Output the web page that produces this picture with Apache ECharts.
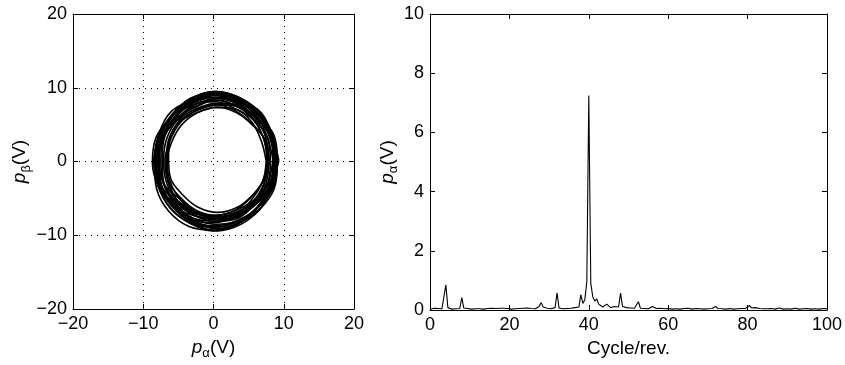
<!DOCTYPE html>
<html>
<head>
<meta charset="utf-8">
<script src="https://cdn.jsdelivr.net/npm/echarts@6/dist/echarts.min.js"></script>
<style>
html,body{margin:0;padding:0;background:#fff;}
#c{width:845px;height:365px;}
</style>
</head>
<body>
<div id="c"></div>
<script>
// ---- Left panel: trajectory p_alpha vs p_beta (V), 16 samples per revolution ----
const pointsPerLoop = 16;
const pAlpha = [
  8.5,7.7,6.2,3.4,0.3,-2.7,-5.4,-7.3,-7.7,-7.5,-5.2,-2.8,0.3,3.5,6.0,8.3,
  9.1,8.3,6.2,3.7,0.3,-3.0,-5.6,-7.3,-8.1,-7.7,-5.9,-3.2,0.3,3.6,6.5,8.6,
  7.7,7.3,5.4,3.1,0.3,-2.5,-4.8,-6.2,-6.9,-6.5,-5.1,-2.5,0.3,3.3,5.5,7.0,
  9.3,8.4,6.8,3.8,0.3,-3.1,-5.8,-7.8,-8.3,-7.5,-5.8,-3.1,0.3,3.8,6.5,8.2,
  8.1,7.7,5.8,3.2,0.3,-2.8,-5.2,-6.7,-7.1,-6.7,-5.2,-2.8,0.3,3.2,5.8,7.7,
  8.7,8.3,6.5,3.6,0.3,-2.8,-5.8,-7.5,-7.9,-7.1,-5.5,-2.9,0.3,3.7,6.4,8.1,
  7.5,6.8,5.5,3.2,0.3,-2.4,-4.9,-6.4,-6.7,-6.4,-4.7,-2.5,0.3,3.1,5.3,7.0,
  8.9,8.4,6.7,3.8,0.3,-3.2,-5.9,-7.7,-8.5,-7.7,-5.6,-3.0,0.3,3.7,6.4,8.4,
  7.9,7.5,6.0,3.4,0.3,-2.6,-5.2,-7.1,-7.5,-7.1,-5.5,-2.7,0.3,3.3,6.0,7.5,
  8.5,8.1,6.1,3.5,0.3,-2.9,-5.5,-7.1,-7.9,-7.5,-5.8,-2.9,0.3,3.4,6.1,8.1,
  9.1,8.6,6.4,3.7,0.3,-3.2,-5.9,-7.7,-8.1,-7.8,-6.1,-3.2,0.3,3.7,6.7,8.4,
  8.9,8.1,6.6,3.8,0.7,-2.3,-5.0,-6.9,-7.3,-7.1,-4.8,-2.4,0.7,3.9,6.4,8.7,
  8.8,8.0,5.9,3.4,0.0,-3.3,-5.9,-7.6,-8.4,-8.0,-6.2,-3.5,0.0,3.3,6.2,8.3,
  7.9,7.5,5.6,3.3,0.5,-2.3,-4.6,-6.0,-6.7,-6.3,-4.9,-2.3,0.5,3.5,5.7,7.2,
  8.9,8.0,6.4,3.4,-0.1,-3.5,-6.2,-8.2,-8.7,-7.9,-6.2,-3.5,-0.1,3.4,6.1,7.8,
  8.6,8.2,6.3,3.7,0.8,-2.3,-4.7,-6.2,-6.6,-6.2,-4.7,-2.3,0.8,3.7,6.3,8.2,
  8.5,8.1,6.3,3.4,0.1,-3.0,-6.0,-7.7,-8.1,-7.3,-5.7,-3.1,0.1,3.5,6.2,7.9,
  9.1,8.6,6.9,4.0,0.5,-3.0,-5.7,-7.5,-8.3,-7.5,-5.4,-2.8,0.5,3.9,6.6,8.6,
  7.8,7.1,5.8,3.5,0.6,-2.1,-4.6,-6.1,-6.4,-6.1,-4.4,-2.2,0.6,3.4,5.6,7.3,
  7.6,7.2,5.7,3.1,0.0,-2.9,-5.5,-7.4,-7.8,-7.4,-5.8,-3.0,0.0,3.0,5.7,7.2,
  8.6,8.2,6.2,3.6,0.4,-2.8,-5.4,-7.0,-7.8,-7.4,-5.7,-2.8,0.4,3.5,6.2,8.2,
  8.8,8.3,6.1,3.4,0.0,-3.5,-6.2,-8.0,-8.4,-8.1,-6.4,-3.5,0.0,3.4,6.4,8.1
];
const pBeta = [
  0.1,3.2,6.0,7.5,8.3,7.3,5.8,3.2,0.1,-3.1,-5.4,-7.3,-8.1,-7.7,-5.6,-3.2,
  0.1,3.4,6.0,8.2,9.1,8.1,6.0,3.2,0.1,-3.2,-6.1,-8.2,-8.7,-7.9,-6.1,-3.4,
  0.1,3.0,5.2,6.9,7.7,6.9,5.2,2.8,0.1,-2.7,-5.3,-6.7,-7.5,-7.1,-5.1,-2.7,
  0.1,3.5,6.6,8.4,9.3,8.2,6.2,3.5,0.1,-3.1,-6.0,-8.0,-9.1,-8.2,-6.1,-3.2,
  0.1,3.2,5.6,7.1,8.1,7.7,5.6,3.0,0.1,-2.8,-5.4,-7.3,-7.7,-6.9,-5.4,-3.0,
  0.1,3.4,6.3,8.1,8.5,7.7,6.2,3.3,0.1,-3.0,-5.7,-7.7,-8.5,-8.0,-6.0,-3.1,
  0.1,2.8,5.3,7.1,7.3,6.6,5.3,2.9,0.1,-2.7,-4.9,-6.6,-7.3,-6.6,-4.9,-2.7,
  0.1,3.5,6.5,8.6,9.5,8.4,6.3,3.4,0.1,-3.2,-5.8,-7.9,-8.9,-8.0,-6.0,-3.3,
  0.1,3.1,5.8,7.7,7.9,7.1,5.6,3.2,0.1,-3.0,-5.7,-7.1,-7.5,-7.1,-5.6,-2.9,
  0.1,3.3,5.9,7.9,8.7,7.9,5.9,3.2,0.1,-3.1,-6.0,-7.7,-8.1,-7.3,-5.7,-3.1,
  0.1,3.6,6.2,8.2,9.1,8.6,6.3,3.4,0.1,-3.3,-6.3,-8.4,-8.9,-8.0,-6.3,-3.3,
  0.4,3.5,6.3,7.8,8.6,7.6,6.1,3.5,0.4,-2.8,-5.1,-7.0,-7.8,-7.4,-5.3,-2.9,
  0.5,3.8,6.4,8.6,9.5,8.5,6.4,3.6,0.5,-2.8,-5.7,-7.8,-8.3,-7.5,-5.7,-3.0,
  -0.2,2.7,4.9,6.6,7.4,6.6,4.9,2.5,-0.2,-3.0,-5.6,-7.0,-7.8,-7.4,-5.4,-3.0,
  -0.2,3.2,6.3,8.1,9.0,7.9,5.9,3.2,-0.2,-3.4,-6.3,-8.3,-9.4,-8.5,-6.4,-3.5,
  0.3,3.4,5.8,7.3,8.3,7.9,5.8,3.2,0.3,-2.6,-5.2,-7.1,-7.5,-6.7,-5.2,-2.8,
  0.7,4.0,6.9,8.7,9.1,8.3,6.8,3.9,0.7,-2.4,-5.1,-7.1,-7.9,-7.4,-5.4,-2.5,
  -0.4,3.0,6.0,8.1,9.0,7.9,5.8,2.9,-0.4,-3.7,-6.3,-8.4,-9.4,-8.5,-6.5,-3.8,
  0.5,3.2,5.7,7.5,7.7,7.0,5.7,3.3,0.5,-2.3,-4.5,-6.2,-6.9,-6.2,-4.5,-2.3,
  -0.1,2.9,5.6,7.5,7.7,6.9,5.4,3.0,-0.1,-3.2,-5.9,-7.3,-7.7,-7.3,-5.8,-3.1,
  0.9,4.1,6.7,8.7,9.5,8.7,6.7,4.0,0.9,-2.3,-5.2,-6.9,-7.3,-6.5,-4.9,-2.3,
  -0.3,3.2,5.8,7.8,8.7,8.2,5.9,3.0,-0.3,-3.7,-6.7,-8.8,-9.3,-8.4,-6.7,-3.7
];
const leftTicks = [-20, -10, 0, 10, 20];

// ---- Right panel: spectrum of p_alpha vs Cycle/rev. (0..100, step 0.5) ----
const freqStep = 0.5;
const spectrum = [
  0.02,0.05,0.06,0.04,0.05,0.03,0.04,0.06,0.85,0.08,0.04,0.03,0.05,0.04,0.06,0.05,0.42,0.07,0.04,0.05,
  0.04,0.03,0.05,0.04,0.02,0.04,0.05,0.03,0.04,0.05,0.03,0.06,0.12,0.05,0.09,0.06,0.04,0.06,0.03,0.05,
  0.04,0.03,0.05,0.04,0.03,0.05,0.04,0.06,0.05,0.07,0.04,0.05,0.03,0.04,0.06,0.12,0.25,0.10,0.05,0.06,
  0.05,0.04,0.06,0.08,0.58,0.07,0.05,0.04,0.06,0.05,0.10,0.06,0.05,0.08,0.12,0.10,0.52,0.22,0.35,0.95,
  7.25,0.90,0.45,0.30,0.38,0.20,0.15,0.10,0.12,0.20,0.15,0.08,0.10,0.12,0.08,0.10,0.57,0.12,0.06,0.08,
  0.05,0.07,0.04,0.06,0.05,0.28,0.06,0.04,0.05,0.07,0.04,0.06,0.12,0.07,0.05,0.04,0.06,0.05,0.04,0.05,
  0.05,0.04,0.03,0.05,0.04,0.06,0.03,0.04,0.05,0.04,0.06,0.05,0.03,0.04,0.05,0.03,0.04,0.05,0.03,0.04,
  0.04,0.03,0.05,0.04,0.12,0.05,0.03,0.04,0.05,0.03,0.04,0.05,0.04,0.03,0.05,0.04,0.03,0.05,0.04,0.06,
  0.08,0.15,0.07,0.05,0.08,0.04,0.05,0.03,0.04,0.05,0.04,0.03,0.05,0.04,0.03,0.05,0.07,0.04,0.03,0.05,
  0.04,0.05,0.03,0.04,0.06,0.04,0.03,0.05,0.04,0.03,0.05,0.04,0.03,0.05,0.04,0.06,0.03,0.04,0.05,0.03,
  0.04
];
const rightXTicks = [0, 20, 40, 60, 80, 100];
const rightYTicks = [0, 2, 4, 6, 8, 10];

const FONT = 'Liberation Sans, Arial, Helvetica, sans-serif';
const FS = 18;
const minus = v => String(v).replace('-', '\u2212');

// split the trajectory into closed revolutions
const loops = [];
for (let s = 0; s < pAlpha.length; s += pointsPerLoop) {
  const pts = [];
  for (let i = s; i < s + pointsPerLoop; i++) pts.push([pAlpha[i], pBeta[i]]);
  pts.push([pAlpha[s], pBeta[s]]);
  loops.push(pts);
}
const spec = spectrum.map((v, i) => [i * freqStep, v]);

function nameRich() {
  return {
    fontFamily: FONT, fontSize: FS, color: '#000',
    rich: {
      i: { fontFamily: FONT, fontSize: FS + 1, fontStyle: 'italic', color: '#000' },
      s: { fontFamily: FONT, fontSize: 13, color: '#000', padding: [12, 0, 0, 0] },
      n: { fontFamily: FONT, fontSize: FS + 1, color: '#000' }
    }
  };
}

function axisBase(gridIndex, min, max, interval, position, showLabel, name, nameGap, split) {
  return {
    type: 'value', gridIndex, min, max, interval, position,
    name: name || '', nameLocation: 'middle', nameGap: nameGap || 0,
    nameTextStyle: nameRich(),
    axisLine: { show: true, onZero: false, lineStyle: { color: '#000', width: 1 } },
    axisTick: { show: true, inside: true, length: 5, lineStyle: { color: '#000', width: 1 } },
    axisLabel: { show: showLabel, fontFamily: FONT, fontSize: FS, color: '#000', margin: 6, formatter: minus },
    splitLine: { show: !!split, lineStyle: { color: '#000', type: [1, 5], width: 1 } }
  };
}

const series = loops.map(pts => ({
  type: 'line', xAxisIndex: 0, yAxisIndex: 0, data: pts,
  showSymbol: false, smooth: 0.35, clip: true, silent: true,
  lineStyle: { color: '#000', width: 1.6 }
}));
series.push({
  type: 'line', xAxisIndex: 2, yAxisIndex: 2, data: spec,
  showSymbol: false, clip: true,
  lineStyle: { color: '#000', width: 1.1 }
});

const option = {
  animation: false,
  backgroundColor: '#fff',
  grid: [
    { left: 73, top: 14, width: 281, height: 295, containLabel: false },
    { left: 430, top: 14, width: 398, height: 296, containLabel: false }
  ],
  xAxis: [
    axisBase(0, leftTicks[0], leftTicks[leftTicks.length - 1], 10, 'bottom', true, '{i|p}{s|α}{n|(V)}', 24, true),
    axisBase(0, leftTicks[0], leftTicks[leftTicks.length - 1], 10, 'top', false),
    axisBase(1, rightXTicks[0], rightXTicks[rightXTicks.length - 1], 20, 'bottom', true, '{n|Cycle/rev.}', 20, false),
    axisBase(1, rightXTicks[0], rightXTicks[rightXTicks.length - 1], 20, 'top', false)
  ],
  yAxis: [
    axisBase(0, leftTicks[0], leftTicks[leftTicks.length - 1], 10, 'left', true, '{i|p}{s|β}{n|(V)}', 35, true),
    axisBase(0, leftTicks[0], leftTicks[leftTicks.length - 1], 10, 'right', false),
    axisBase(1, rightYTicks[0], rightYTicks[rightYTicks.length - 1], 2, 'left', true, '{i|p}{s|α}{n|(V)}', 28, false),
    axisBase(1, rightYTicks[0], rightYTicks[rightYTicks.length - 1], 2, 'right', false)
  ],
  series
};

const chart = echarts.init(document.getElementById('c'), null, { renderer: 'canvas' });
chart.setOption(option);
</script>
</body>
</html>
